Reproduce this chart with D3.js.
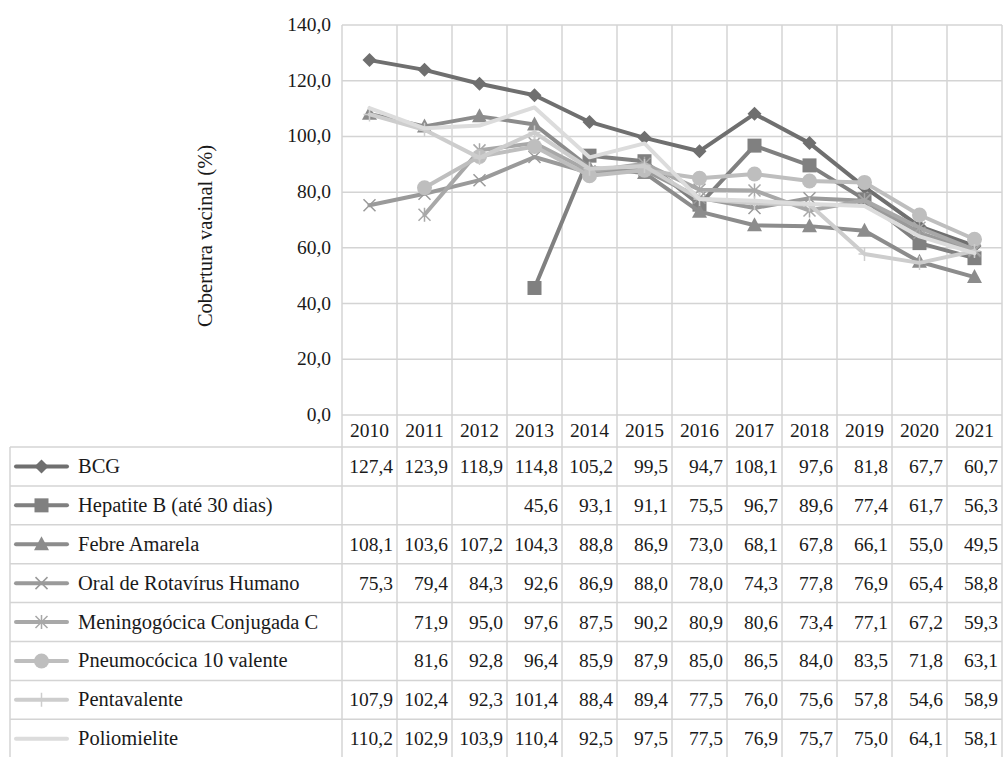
<!DOCTYPE html>
<html>
<head>
<meta charset="utf-8">
<script src="https://cdn.jsdelivr.net/npm/d3@7"></script>
<style>
  body { margin: 0; background: #fff; }
</style>
</head>
<body>
<svg id="svg" width="1004" height="757"></svg>
<script>
const years = ['2010', '2011', '2012', '2013', '2014', '2015', '2016', '2017', '2018', '2019', '2020', '2021']
const yTicks = [0, 20, 40, 60, 80, 100, 120, 140]

const bcg = [127.4, 123.9, 118.9, 114.8, 105.2, 99.5, 94.7, 108.1, 97.6, 81.8, 67.7, 60.7]
const hepatiteB = [null, null, null, 45.6, 93.1, 91.1, 75.5, 96.7, 89.6, 77.4, 61.7, 56.3]
const febreAmarela = [108.1, 103.6, 107.2, 104.3, 88.8, 86.9, 73.0, 68.1, 67.8, 66.1, 55.0, 49.5]
const rotavirus = [75.3, 79.4, 84.3, 92.6, 86.9, 88.0, 78.0, 74.3, 77.8, 76.9, 65.4, 58.8]
const meningo = [null, 71.9, 95.0, 97.6, 87.5, 90.2, 80.9, 80.6, 73.4, 77.1, 67.2, 59.3]
const pneumo = [null, 81.6, 92.8, 96.4, 85.9, 87.9, 85.0, 86.5, 84.0, 83.5, 71.8, 63.1]
const penta = [107.9, 102.4, 92.3, 101.4, 88.4, 89.4, 77.5, 76.0, 75.6, 57.8, 54.6, 58.9]
const polio = [110.2, 102.9, 103.9, 110.4, 92.5, 97.5, 77.5, 76.9, 75.7, 75.0, 64.1, 58.1]

const series = [
  { name: 'BCG', values: bcg, color: '#6f6f6f', marker: 'diamond' },
  { name: 'Hepatite B (até 30 dias)', values: hepatiteB, color: '#808080', marker: 'square' },
  { name: 'Febre Amarela', values: febreAmarela, color: '#8c8c8c', marker: 'triangle' },
  { name: 'Oral de Rotavírus Humano', values: rotavirus, color: '#9a9a9a', marker: 'x' },
  { name: 'Meningogócica Conjugada C', values: meningo, color: '#a8a8a8', marker: 'star' },
  { name: 'Pneumocócica 10 valente', values: pneumo, color: '#bebebe', marker: 'circle' },
  { name: 'Pentavalente', values: penta, color: '#cdcdcd', marker: 'plus' },
  { name: 'Poliomielite', values: polio, color: '#dcdcdc', marker: 'none' }
]

const numSize = 19.5
const nameSize = 20.5
const font = '"Liberation Serif"'
const gridColor = '#d4d4d4'

const svg = d3.select('#svg')

function label(sel) {
  return sel.style('font-family', font).attr('fill', '#1a1a1a')
}

const plotLeft = 342, plotRight = 1002, plotTop = 25, plotBottom = 415
const tableLeft = 10, headerBottom = 447, rowH = 38.9

const xScale = d3.scaleBand().domain(years).range([plotLeft, plotRight])
const yScale = d3.scaleLinear().domain([0, 140]).range([plotBottom, plotTop])

// horizontal gridlines
svg.append('g').selectAll('line').data(yTicks).join('line')
  .attr('x1', plotLeft).attr('x2', plotRight)
  .attr('y1', d => yScale(d)).attr('y2', d => yScale(d))
  .attr('stroke', gridColor).attr('stroke-width', 1.5)

// vertical lines (plot + table columns)
const tableBottom = headerBottom + rowH * series.length
const colEdges = years.map(y => xScale(y)).concat([plotRight])
svg.append('g').selectAll('line').data(colEdges).join('line')
  .attr('x1', d => d).attr('x2', d => d)
  .attr('y1', plotTop).attr('y2', tableBottom)
  .attr('stroke', gridColor).attr('stroke-width', 1.5)

// table horizontal lines
const rowEdges = d3.range(series.length).map(i => headerBottom + i * rowH)
svg.append('g').selectAll('line').data(rowEdges).join('line')
  .attr('x1', tableLeft).attr('x2', plotRight)
  .attr('y1', d => d).attr('y2', d => d)
  .attr('stroke', gridColor).attr('stroke-width', 1.5)
svg.append('line')
  .attr('x1', tableLeft).attr('x2', tableLeft)
  .attr('y1', headerBottom).attr('y2', tableBottom)
  .attr('stroke', gridColor).attr('stroke-width', 1.5)

// y tick labels
svg.append('g').selectAll('text').data(yTicks).join('text')
  .attr('x', 331).attr('y', d => yScale(d) + 6)
  .attr('text-anchor', 'end').attr('font-size', numSize)
  .call(label)
  .text(d => d3.format('.1f')(d).replace('.', ','))

// y axis title
svg.append('text')
  .attr('transform', 'translate(212,236) rotate(-90)')
  .attr('text-anchor', 'middle').attr('font-size', nameSize)
  .call(label)
  .text('Cobertura vacinal (%)')

// year header
svg.append('g').selectAll('text').data(years).join('text')
  .attr('x', d => xScale(d) + xScale.bandwidth() / 2)
  .attr('y', (plotBottom + headerBottom) / 2 + 6)
  .attr('text-anchor', 'middle').attr('font-size', numSize)
  .call(label)
  .text(d => d)

// markers
function drawMarker(g, type, color) {
  if (type === 'diamond') g.append('path').attr('d', 'M0,-7L7,0L0,7L-7,0Z').attr('fill', color)
  else if (type === 'square') g.append('rect').attr('x', -7).attr('y', -7).attr('width', 14).attr('height', 14).attr('fill', color)
  else if (type === 'triangle') g.append('path').attr('d', 'M0,-8L7.5,6L-7.5,6Z').attr('fill', color)
  else if (type === 'circle') g.append('circle').attr('r', 7.5).attr('fill', color)
  else if (type === 'x') g.append('path').attr('d', 'M-6,-6L6,6M-6,6L6,-6').attr('stroke', color).attr('stroke-width', 1.5)
  else if (type === 'star') g.append('path').attr('d', 'M-6,-6L6,6M-6,6L6,-6M0,-7L0,7').attr('stroke', color).attr('stroke-width', 1.5)
  else if (type === 'plus') g.append('path').attr('d', 'M-6,0L6,0M0,-7L0,7').attr('stroke', color).attr('stroke-width', 1.5)
}

const lineGen = d3.line()
  .defined(d => d != null)
  .x((d, i) => xScale(years[i]) + xScale.bandwidth() / 2)
  .y(d => yScale(d))

// Excel draws first series first, last on top
series.forEach(s => {
  const g = svg.append('g')
  g.append('path')
    .attr('d', lineGen(s.values))
    .attr('fill', 'none').attr('stroke', s.color)
    .attr('stroke-width', 4).attr('stroke-linejoin', 'round').attr('stroke-linecap', 'round')
  s.values.forEach((v, i) => {
    if (v == null) return
    const m = g.append('g').attr('transform', `translate(${xScale(years[i]) + xScale.bandwidth() / 2},${yScale(v)})`)
    drawMarker(m, s.marker, s.color)
  })
})

// table rows: legend key + values
series.forEach((s, r) => {
  const cy = headerBottom + r * rowH + rowH / 2
  const g = svg.append('g')
  g.append('line').attr('x1', 16).attr('x2', 67).attr('y1', cy).attr('y2', cy)
    .attr('stroke', s.color).attr('stroke-width', 4).attr('stroke-linecap', 'round')
  drawMarker(g.append('g').attr('transform', `translate(41.5,${cy})`), s.marker, s.color)
  g.append('text').attr('x', 78).attr('y', cy + 6.5).attr('font-size', nameSize)
    .call(label).text(s.name)
  g.selectAll('text.v').data(s.values).join('text').attr('class', 'v')
    .attr('x', (d, i) => xScale(years[i]) + xScale.bandwidth() - 4)
    .attr('y', cy + 6.5).attr('text-anchor', 'end').attr('font-size', numSize)
    .call(label)
    .text(d => d == null ? '' : d3.format('.1f')(d).replace('.', ','))
})
</script>
</body>
</html>
